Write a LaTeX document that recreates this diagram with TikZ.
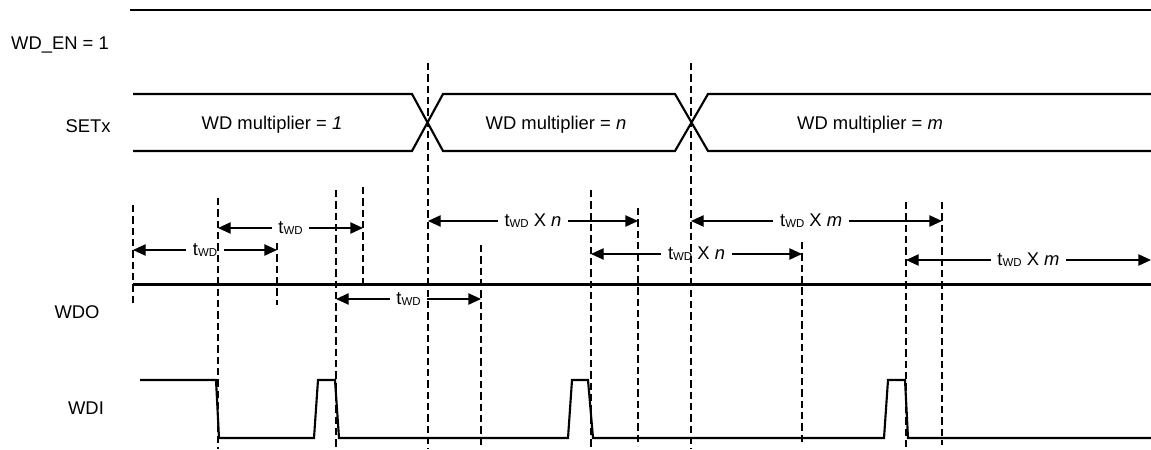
\documentclass[tikz,border=0pt]{standalone}
\usepackage{fontspec}
\setmainfont{Liberation Sans}
\usetikzlibrary{arrows.meta}
\newcommand\twd{t\raisebox{-0.8pt}{\fontsize{8.6}{9}\selectfont WD}}
\begin{document}
\begin{tikzpicture}[x=0.75pt,y=-0.75pt,
  sig/.style={line width=1.6pt,line join=miter},
  guide/.style={line width=0.9pt,dash pattern=on 5.5pt off 3pt},
  meas/.style={line width=1pt,{Triangle[length=9.5pt,width=8.5pt]}-{Triangle[length=9.5pt,width=8.5pt]}},
  lbl/.style={font=\fontsize{13.8}{16}\selectfont,inner sep=0pt},
  mlbl/.style={font=\fontsize{13.8}{16}\selectfont,fill=white,inner xsep=5pt,inner ysep=1pt}]
\useasboundingbox (0,0) rectangle (1151,449);
% signal labels
\node[lbl] (lwden) at (60,45) {WD\_EN = 1};
\node[lbl] (lsetx) at (88,126) {SETx};
\node[lbl] (lwdo) at (77,312) {WDO};
\node[lbl] (lwdi) at (86,408) {WDI};
% WD_EN
\draw[sig] (130,10) -- (1151,10);
% SETx bus
\draw[sig] (133,94) -- (412,94) -- (443,151) -- (675,151) -- (708,94) -- (1151,94);
\draw[sig] (133,151) -- (412,151) -- (443,94) -- (675,94) -- (708,151) -- (1151,151);
\node[lbl] (m1) at (272,125) {WD multiplier = \textit{1}};
\node[lbl] (mn) at (556,125) {WD multiplier = \textit{n}};
\node[lbl] (mm) at (870,125) {WD multiplier = \textit{m}};
% WDO
\draw[sig] (133,284.5) -- (1151,284.5);
% WDI
\draw[sig] (140,380) -- (216,380) -- (219,438) -- (314,438) -- (318,380) -- (335,380) -- (339,438)
  -- (568,438) -- (572,380) -- (588,380) -- (593,438) -- (884,438) -- (888,380) -- (905,380)
  -- (908,438) -- (1151,438);
% measurement end points
\coordinate (a1) at (133,250); \coordinate (b1) at (277,250);
\coordinate (a2) at (218,228); \coordinate (b2) at (363,228);
\coordinate (a3) at (336,299); \coordinate (b3) at (481,299);
\coordinate (a4) at (428,221); \coordinate (b4) at (638,221);
\coordinate (a5) at (591,254); \coordinate (b5) at (802,254);
\coordinate (a6) at (691,221); \coordinate (b6) at (942,221);
\coordinate (a7) at (906,260); \coordinate (b7) at (1151,260);
\draw[meas] (a1) -- node[mlbl] (t1) {\twd} (b1);
\draw[meas] (a2) -- node[mlbl] (t2) {\twd} (b2);
\draw[meas] (a3) -- node[mlbl] (t3) {\twd} (b3);
\draw[meas] (a4) -- node[mlbl] (t4) {\twd{} X \textit{n}} (b4);
\draw[meas] (a5) -- node[mlbl] (t5) {\twd{} X \textit{n}} (b5);
\draw[meas] (a6) -- node[mlbl,xshift=-4] (t6) {\twd{} X \textit{m}} (b6);
\draw[meas] (a7) -- node[mlbl] (t7) {\twd{} X \textit{m}} (b7);
% guide lines
\draw[guide] (133,205) -- (133,303);
\draw[guide] (218,198) -- (218,449);
\draw[guide] (277,243) -- (277,305);
\draw[guide] (336,190) -- (336,449);
\draw[guide] (363,187) -- (363,285);
\draw[guide] (428,63) -- (428,449);
\draw[guide] (481,245) -- (481,446);
\draw[guide] (591,190) -- (591,449);
\draw[guide] (638,208) -- (638,446);
\draw[guide] (691,63) -- (691,449);
\draw[guide] (802,242) -- (802,443);
\draw[guide] (906,202) -- (906,449);
\draw[guide] (942,202) -- (942,445);
\end{tikzpicture}
\end{document}
